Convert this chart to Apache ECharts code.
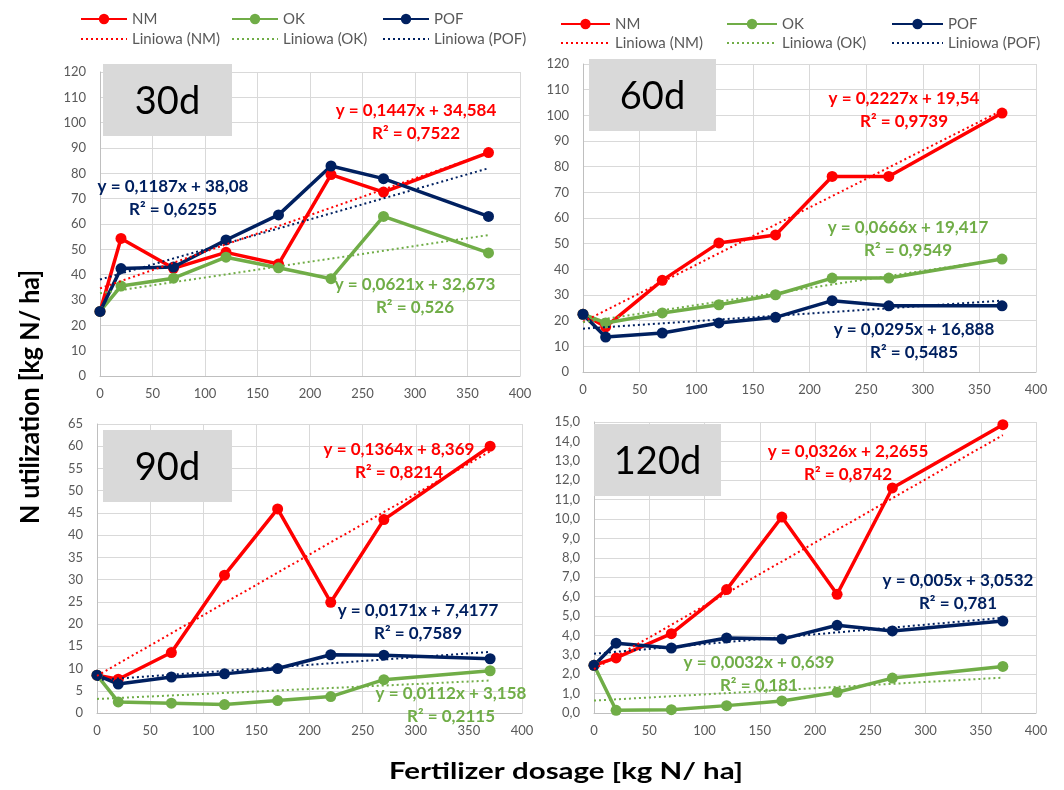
<!DOCTYPE html>
<html>
<head>
<meta charset="utf-8">
<script src="https://cdn.jsdelivr.net/npm/echarts@6/dist/echarts.min.js"></script>
<style>
  html, body { margin: 0; padding: 0; background: #ffffff; }
  #chart { width: 1064px; height: 790px; }
</style>
</head>
<body>
<div id="chart"></div>
<script>
// Fertilizer dose levels (kg N/ha)
const doses = [0, 20, 70, 120, 170, 220, 270, 370];

// Panel names (days after application)
const panelNames = ['30d', '60d', '90d', '120d'];

// N utilization (kg N/ha) per treatment and panel
const nm30  = [25.5, 54.3, 42.5, 48.8, 44.2, 79.5, 72.6, 88.2];
const ok30  = [25.5, 35.5, 38.6, 46.9, 42.7, 38.4, 63.0, 48.6];
const pof30 = [25.5, 42.4, 43.0, 53.7, 63.6, 82.9, 77.9, 63.0];

const nm60  = [22.5, 17.6, 35.7, 50.3, 53.4, 76.2, 76.2, 100.9];
const ok60  = [22.5, 19.1, 23.0, 26.2, 30.1, 36.6, 36.6, 44.0];
const pof60 = [22.5, 13.6, 15.2, 19.1, 21.3, 27.8, 25.8, 25.8];

const nm90  = [8.5, 7.6, 13.6, 31.0, 45.9, 24.9, 43.5, 60.0];
const ok90  = [8.5, 2.5, 2.2, 1.9, 2.8, 3.7, 7.5, 9.5];
const pof90 = [8.5, 6.5, 8.1, 8.8, 10.0, 13.1, 13.0, 12.2];

const nm120  = [2.46, 2.84, 4.09, 6.36, 10.1, 6.12, 11.6, 14.86];
const ok120  = [2.46, 0.14, 0.17, 0.38, 0.62, 1.07, 1.80, 2.40];
const pof120 = [2.46, 3.60, 3.35, 3.87, 3.81, 4.52, 4.23, 4.74];

// Linear fits [slope, intercept] per panel (30d, 60d, 90d, 120d)
const nmFit  = [[0.1447, 34.584], [0.2227, 19.54], [0.1364, 8.369], [0.0326, 2.2655]];
const okFit  = [[0.0621, 32.673], [0.0666, 19.417], [0.0112, 3.158], [0.0032, 0.639]];
const pofFit = [[0.1187, 38.08], [0.0295, 16.888], [0.0171, 7.4177], [0.005, 3.0532]];

// Coefficients of determination per panel
const nmR2  = [0.7522, 0.9739, 0.8214, 0.8742];
const okR2  = [0.526, 0.9549, 0.2115, 0.181];
const pofR2 = [0.6255, 0.5485, 0.7589, 0.781];

// Y-axis ranges per panel [max, interval]
const yMax      = [120, 120, 65, 15];
const yInterval = [10, 10, 5, 1];

const COLORS = { NM: '#ff0000', OK: '#70ad47', POF: '#002060' };
const FONT = 'Lato, "Open Sans", sans-serif';
const GRID_LINE = '#d9d9d9';
const LABEL_GREY = '#595959';

const grids = [
  { left: 100, top: 72, width: 420, height: 304 },
  { left: 583, top: 64, width: 453, height: 308 },
  { left: 97,  top: 424, width: 425, height: 289 },
  { left: 594, top: 422, width: 442, height: 291 }
];

const seriesByPanel = [
  { NM: nm30,  OK: ok30,  POF: pof30 },
  { NM: nm60,  OK: ok60,  POF: pof60 },
  { NM: nm90,  OK: ok90,  POF: pof90 },
  { NM: nm120, OK: ok120, POF: pof120 }
];
const fits = { NM: nmFit, OK: okFit, POF: pofFit };
const r2s  = { NM: nmR2, OK: okR2, POF: pofR2 };

// Positions (centre x, y of the equation line) of the fit labels
const eqPos = [
  { NM: [416, 111], OK: [415, 285], POF: [173, 187] },
  { NM: [904, 99],  OK: [908, 228], POF: [914, 330] },
  { NM: [399, 450], OK: [451, 694], POF: [418, 611] },
  { NM: [848, 452], OK: [759, 663], POF: [958, 581] }
];
// Panel tag boxes [x, y, w, h]
const tagBoxes = [[103, 64, 129, 72], [589, 59, 127, 72], [103, 430, 129, 72], [594, 424, 127, 72]];

const comma = v => String(v).replace('.', ',');

const xAxes = [], yAxes = [], series = [], graphics = [];

grids.forEach((g, i) => {
  xAxes.push({
    type: 'value', gridIndex: i, min: 0, max: 400, interval: 50,
    axisLine: { show: true, lineStyle: { color: '#bfbfbf', width: 1 } },
    axisTick: { show: false },
    splitLine: { show: true, lineStyle: { color: GRID_LINE, width: 1 } },
    axisLabel: { color: LABEL_GREY, fontSize: 13, fontFamily: FONT, margin: 11 }
  });
  yAxes.push({
    type: 'value', gridIndex: i, min: 0, max: yMax[i], interval: yInterval[i],
    axisLine: { show: true, lineStyle: { color: '#bfbfbf', width: 1 } },
    axisTick: { show: false },
    splitLine: { show: true, lineStyle: { color: GRID_LINE, width: 1 } },
    axisLabel: {
      color: LABEL_GREY, fontSize: 13, fontFamily: FONT, margin: 14,
      formatter: i === 3 ? (v => v.toFixed(1).replace('.', ',')) : (v => String(v))
    }
  });

  ['NM', 'OK', 'POF'].forEach(key => {
    series.push({
      name: key, type: 'line', xAxisIndex: i, yAxisIndex: i,
      data: doses.map((d, k) => [d, seriesByPanel[i][key][k]]),
      symbol: 'circle', symbolSize: 11,
      lineStyle: { color: COLORS[key], width: 3.5 },
      itemStyle: { color: COLORS[key] },
      z: 3
    });
  });
  ['NM', 'OK', 'POF'].forEach(key => {
    const [a, b] = fits[key][i];
    const x0 = doses[0], x1 = doses[doses.length - 1];
    series.push({
      name: 'Liniowa (' + key + ')', type: 'line', xAxisIndex: i, yAxisIndex: i,
      data: [[x0, a * x0 + b], [x1, a * x1 + b]],
      symbol: 'none',
      lineStyle: { color: COLORS[key], width: 2, type: [2, 3] },
      itemStyle: { color: COLORS[key] },
      z: 4
    });
  });

  // panel tag
  const [bx, by, bw, bh] = tagBoxes[i];
  graphics.push({
    type: 'rect', shape: { x: bx, y: by, width: bw, height: bh },
    style: { fill: '#d9d9d9' }, z: 10
  });
  graphics.push({
    type: 'text', x: bx + bw / 2, y: by + bh / 2 + 2, z: 11,
    style: { text: panelNames[i], fill: '#000000', font: '38px ' + FONT, textAlign: 'center', textVerticalAlign: 'middle' }
  });

  // fit equations
  ['NM', 'OK', 'POF'].forEach(key => {
    const [a, b] = fits[key][i];
    const [cx, cy] = eqPos[i][key];
    graphics.push({
      type: 'text', x: cx, y: cy, z: 12,
      style: {
        text: 'y = ' + comma(a) + 'x + ' + comma(b),
        fill: COLORS[key], font: 'bold 17px ' + FONT, textAlign: 'center', textVerticalAlign: 'middle'
      }
    });
    graphics.push({
      type: 'text', x: cx, y: cy + 23, z: 12,
      style: {
        text: 'R² = ' + comma(r2s[key][i]),
        fill: COLORS[key], font: 'bold 17px ' + FONT, textAlign: 'center', textVerticalAlign: 'middle'
      }
    });
  });
});

// Axis titles
graphics.push({
  type: 'text', x: 30, y: 397, rotation: Math.PI / 2, scaleY: 1.1, z: 12,
  style: { text: 'N utilization [kg N/ ha]', fill: '#000', font: 'bold 25px ' + FONT, textAlign: 'center', textVerticalAlign: 'middle' }
});
graphics.push({
  type: 'text', x: 566, y: 772, scaleX: 1.34, z: 12,
  style: { text: 'Fertilizer dosage [kg N/ ha]', fill: '#000', font: 'bold 22px ' + FONT, textAlign: 'center', textVerticalAlign: 'middle' }
});

// Legends: one column per treatment, two sets (top-left and top-right)
function legendCol(key, left, top, gap, width) {
  return {
    orient: 'vertical', left: left, top: top, itemGap: gap,
    itemWidth: width, itemHeight: 13, padding: 0,
    data: [
      { name: key },
      { name: 'Liniowa (' + key + ')', itemStyle: { opacity: 0 } }
    ],
    textStyle: { color: LABEL_GREY, fontSize: 15, lineHeight: 16, fontFamily: FONT },
    selectedMode: false
  };
}
const legends = [
  legendCol('NM', 80, 11, 4, 46),
  legendCol('OK', 231, 11, 4, 46),
  legendCol('POF', 382, 11, 4, 46),
  legendCol('NM', 560, 16, 3, 49),
  legendCol('OK', 726, 16, 3, 50),
  legendCol('POF', 891, 16, 3, 51)
];

const chart = echarts.init(document.getElementById('chart'), null, { renderer: 'canvas' });
chart.setOption({
  animation: false,
  backgroundColor: '#ffffff',
  grid: grids.map(g => Object.assign({ containLabel: false }, g)),
  xAxis: xAxes,
  yAxis: yAxes,
  legend: legends,
  series: series,
  graphic: graphics
});
</script>
</body>
</html>
